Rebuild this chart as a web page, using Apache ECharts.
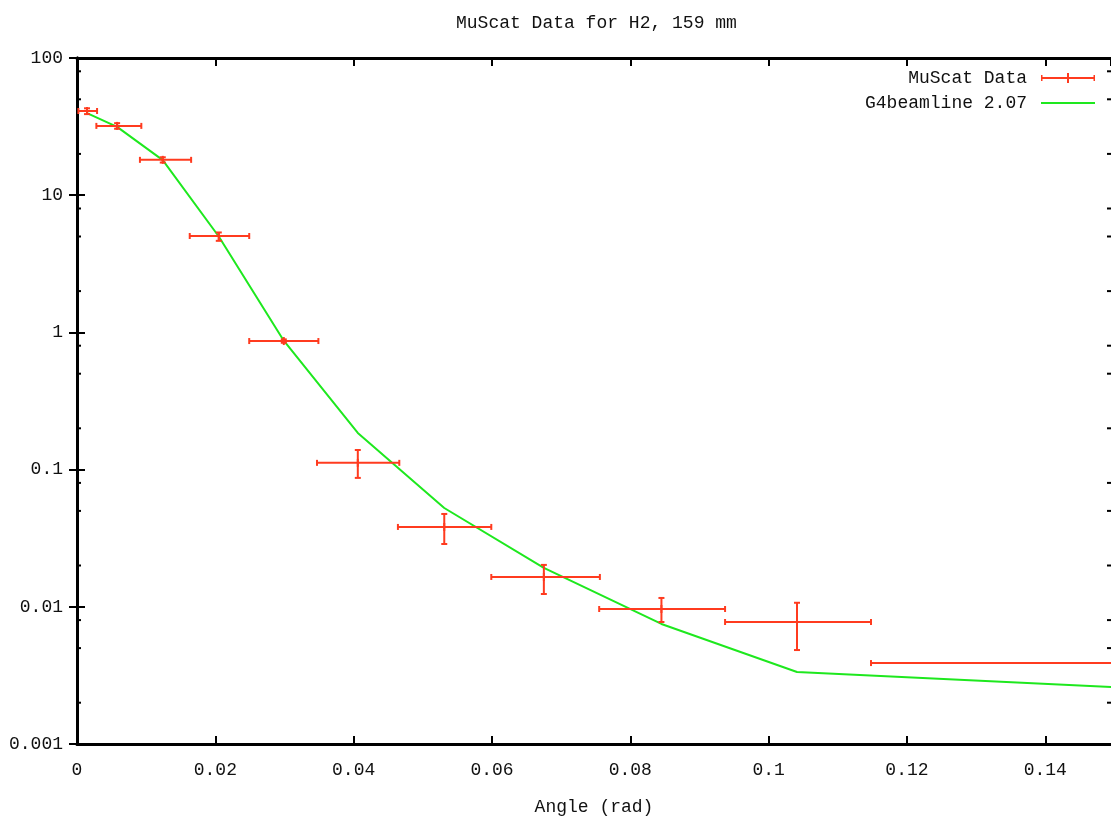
<!DOCTYPE html>
<html>
<head>
<meta charset="utf-8">
<script src="https://cdn.jsdelivr.net/npm/echarts@6/dist/echarts.min.js"></script>
<style>
  html, body { margin: 0; padding: 0; background: #fff; }
  #chart { width: 1111px; height: 821px; }
</style>
</head>
<body>
<div id="chart"></div>
<script>
// bin centres and widths (rad)
const angle = [0.00145, 0.0058, 0.0124, 0.0205, 0.0299, 0.0406, 0.0531, 0.0675, 0.0845, 0.1041, 0.16];
const angleLow = [0.0002, 0.0028, 0.0091, 0.0163, 0.0249, 0.0347, 0.0464, 0.0599, 0.0755, 0.0937, 0.1148];
const angleHigh = [0.0029, 0.0093, 0.0165, 0.0249, 0.0349, 0.0466, 0.0599, 0.0756, 0.0937, 0.1148, 0.205];

// MuScat measurement with errors
const muscat = [41.1, 32.0, 18.1, 5.04, 0.865, 0.112, 0.0382, 0.0165, 0.00964, 0.00775, 0.00389];
const muscatLow = [39.0, 30.5, 17.3, 4.65, 0.84, 0.087, 0.0287, 0.0124, 0.00775, 0.00484, 0.0037];
const muscatHigh = [43.0, 33.5, 18.9, 5.35, 0.89, 0.139, 0.0475, 0.0202, 0.0116, 0.0107, 0.0041];

// G4beamline 2.07 simulation
const g4beamline = [39.7, 31.5, 18.0, 5.0, 0.87, 0.185, 0.0525, 0.0192, 0.0075, 0.00335, 0.00246];

// log axis minor ticks
const minorTickValues = [0.002, 0.005, 0.008, 0.02, 0.05, 0.08, 0.2, 0.5, 0.8, 2, 5, 8, 20, 50, 80];

const RED = '#ff3b1f';
const GREEN = '#1ee81e';
const FONT = 'Liberation Mono';
// the original plot box is cut off just short of 0.15
const X_MAX = 0.1495;

const chart = echarts.init(document.getElementById('chart'));

const fmtX = v => (v === 0 ? '0' : String(+v.toFixed(2)));
const fmtY = v => String(+v.toPrecision(1));

const axisCommon = {
  axisLine: { lineStyle: { color: '#000', width: 3 } },
  axisTick: { inside: true, length: 8, lineStyle: { color: '#000', width: 2 } },
  splitLine: { show: false },
};

const option = {
  animation: false,
  backgroundColor: '#fff',
  title: {
    text: 'MuScat Data for H2, 159 mm',
    left: 451,
    top: 9,
    textStyle: { fontFamily: FONT, fontSize: 18, fontWeight: 'normal', color: '#111' },
  },
  legend: {
    orient: 'vertical',
    right: 11,
    top: 64,
    align: 'right',
    itemWidth: 54,
    itemHeight: 10,
    itemGap: 7,
    textStyle: { fontFamily: FONT, fontSize: 18, color: '#111', padding: [0, 9, 0, 0] },
    data: [
      { name: 'MuScat Data', icon: 'path://M0,4H54V6H0Z M26,0H28V10H26Z M0,2H1.5V8H0Z M52.5,2H54V8H52.5Z' },
      { name: 'G4beamline 2.07', icon: 'path://M0,4H54V6H0Z' },
    ],
  },
  grid: { left: 77, right: 0, top: 58, bottom: 77 },
  xAxis: [
    {
      ...axisCommon,
      type: 'value',
      min: 0,
      max: X_MAX,
      interval: 0.02,
      position: 'bottom',
      name: 'Angle (rad)',
      nameLocation: 'middle',
      nameGap: 54,
      nameTextStyle: { fontFamily: FONT, fontSize: 18, color: '#111' },
      axisLabel: { margin: 17, fontFamily: FONT, fontSize: 18, color: '#111', formatter: fmtX, showMaxLabel: false },
    },
    {
      ...axisCommon,
      type: 'value',
      min: 0,
      max: X_MAX,
      interval: 0.02,
      position: 'top',
      axisLabel: { show: false },
    },
  ],
  yAxis: [
    {
      ...axisCommon,
      type: 'log',
      logBase: 10,
      min: 0.001,
      max: 100,
      position: 'left',
      axisLabel: { margin: 14, fontFamily: FONT, fontSize: 18, color: '#111', formatter: fmtY },
    },
    {
      ...axisCommon,
      type: 'log',
      logBase: 10,
      min: 0.001,
      max: 100,
      position: 'right',
      axisLabel: { show: false },
    },
  ],
  series: [
    {
      name: 'G4beamline 2.07',
      type: 'line',
      data: angle.map((a, i) => [a, g4beamline[i]]),
      symbol: 'none',
      clip: true,
      itemStyle: { color: GREEN },
      lineStyle: { color: GREEN, width: 2 },
      z: 2,
    },
    {
      name: 'MuScat Data',
      type: 'custom',
      clip: true,
      itemStyle: { color: RED },
      encode: { x: 0, y: 1 },
      data: angle.map((a, i) => [a, muscat[i], angleLow[i], angleHigh[i], muscatLow[i], muscatHigh[i]]),
      renderItem: (params, api) => {
        const x = api.value(0), y = api.value(1);
        const c = api.coord([x, y]);
        const l = api.coord([api.value(2), y]);
        const r = api.coord([api.value(3), y]);
        const lo = api.coord([x, api.value(4)]);
        const hi = api.coord([x, api.value(5)]);
        const style = { stroke: RED, lineWidth: 2, fill: null };
        const seg = (x1, y1, x2, y2) => ({ type: 'line', shape: { x1, y1, x2, y2 }, style });
        return {
          type: 'group',
          children: [
            seg(l[0], c[1], r[0], c[1]),
            seg(l[0], c[1] - 3, l[0], c[1] + 3),
            seg(r[0], c[1] - 3, r[0], c[1] + 3),
            seg(c[0], lo[1], c[0], hi[1]),
            seg(c[0] - 3, lo[1], c[0] + 3, lo[1]),
            seg(c[0] - 3, hi[1], c[0] + 3, hi[1]),
            seg(c[0], c[1] - 4, c[0], c[1] + 4),
          ],
        };
      },
      z: 3,
    },
    {
      name: 'minorTicks',
      type: 'custom',
      silent: true,
      clip: false,
      data: minorTickValues.map(v => [0, v]),
      encode: { x: 0, y: 1 },
      renderItem: (params, api) => {
        const v = api.value(1);
        const left = api.coord([0, v]);
        const right = api.coord([X_MAX, v]);
        const style = { stroke: '#000', lineWidth: 2 };
        return {
          type: 'group',
          children: [
            { type: 'line', shape: { x1: left[0], y1: left[1], x2: left[0] + 4, y2: left[1] }, style },
            { type: 'line', shape: { x1: right[0] - 4, y1: right[1], x2: right[0], y2: right[1] }, style },
          ],
        };
      },
      z: 4,
    },
  ],
};

chart.setOption(option);
</script>
</body>
</html>
